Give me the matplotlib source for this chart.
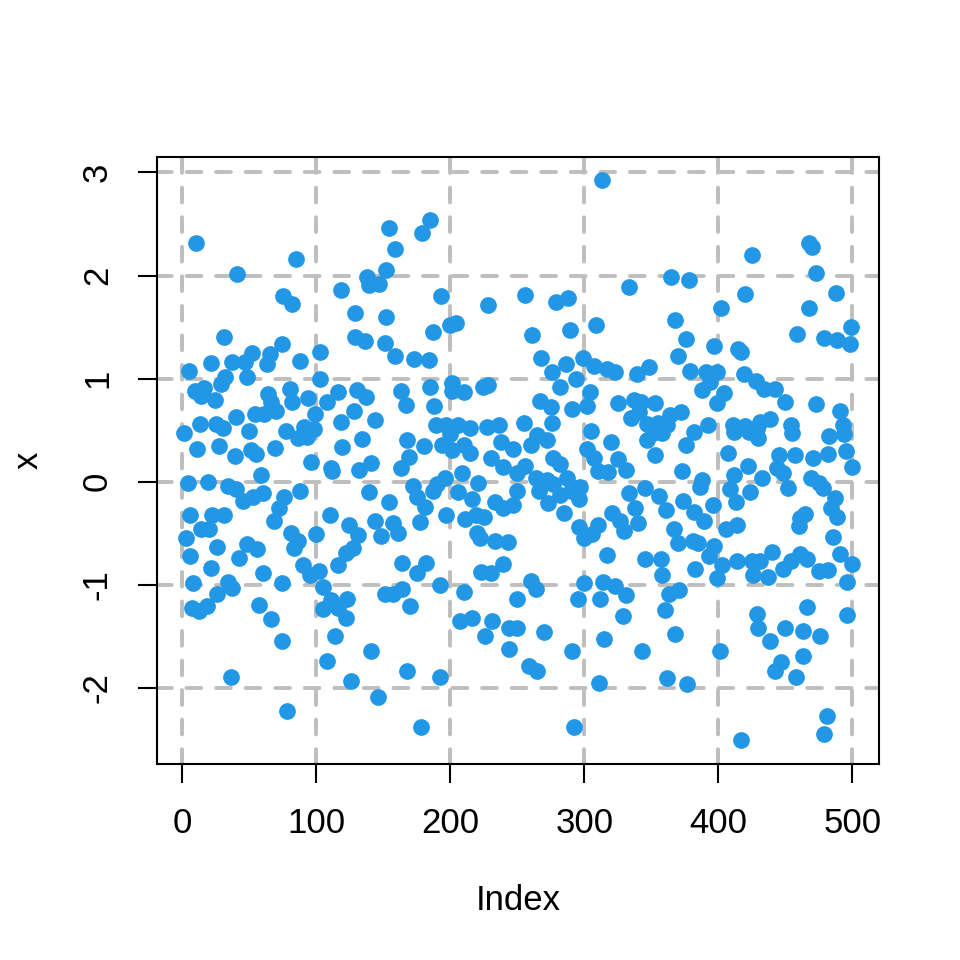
import matplotlib
matplotlib.use("Agg")
import matplotlib.pyplot as plt

# values, grouped by stretches of the index axis
idx_1 = [10, 41, 31, 52, 65, 21, 37, 47, 63, 5, 32, 48, 29, 9, 16, 14, 24, 64, 66, 70,
         40, 54, 61, 1, 13, 25, 30, 50, 11, 27, 39, 51, 55, 69, 4, 19, 34, 40, 59, 45,
         53, 60, 68, 6, 22, 31, 14, 20, 3, 6, 26, 48, 56, 42, 21, 60, 34, 8, 26, 37,
         7, 12, 18, 57, 66, 36]
val_1 = [2.32, 2.01, 1.40, 1.25, 1.24, 1.15, 1.16, 1.16, 1.14, 1.07, 1.02, 1.02, 0.95, 0.88, 0.91, 0.83, 0.79, 0.85, 0.77, 0.69,
         0.63, 0.66, 0.66, 0.47, 0.56, 0.56, 0.52, 0.49, 0.32, 0.35, 0.25, 0.31, 0.27, 0.33, -0.01, 0.00, -0.04, -0.07, 0.06, -0.19,
         -0.15, -0.11, -0.38, -0.32, -0.32, -0.32, -0.46, -0.46, -0.55, -0.72, -0.63, -0.61, -0.65, -0.74, -0.84, -0.89, -0.97, -0.98, -1.09, -1.03,
         -1.23, -1.26, -1.21, -1.20, -1.33, -1.90]

idx_2 = [154, 159, 85, 138, 152, 139, 147, 118, 75, 82, 129, 152, 129, 136, 151, 74, 103, 159, 88, 103,
         80, 116, 130, 137, 94, 82, 108, 99, 128, 118, 144, 77, 91, 98, 86, 93, 119, 134, 96, 111,
         112, 132, 141, 139, 76, 88, 154, 72, 110, 124, 144, 157, 81, 100, 131, 148, 86, 83, 127, 122,
         116, 90, 95, 102, 74, 105, 123, 151, 157, 105, 111, 116, 122, 114, 141, 108, 126, 146, 78, 74]
val_2 = [2.46, 2.26, 2.16, 1.99, 2.05, 1.91, 1.92, 1.86, 1.80, 1.72, 1.64, 1.60, 1.40, 1.36, 1.35, 1.34, 1.26, 1.22, 1.17, 1.00,
         0.90, 0.87, 0.89, 0.82, 0.81, 0.77, 0.77, 0.66, 0.69, 0.58, 0.60, 0.49, 0.53, 0.51, 0.42, 0.43, 0.34, 0.41, 0.19, 0.13,
         0.10, 0.11, 0.18, -0.10, -0.15, -0.09, -0.20, -0.26, -0.32, -0.42, -0.38, -0.40, -0.50, -0.51, -0.52, -0.53, -0.58, -0.64, -0.64, -0.69,
         -0.81, -0.81, -0.91, -0.87, -0.98, -1.02, -1.14, -1.09, -1.09, -1.24, -1.15, -1.23, -1.32, -1.50, -1.64, -1.74, -1.93, -2.09, -2.23, -1.55]

idx_3 = [185, 179, 193, 228, 200, 204, 187, 173, 184, 185, 201, 201, 210, 224, 228, 163, 167, 188, 189, 197,
         206, 200, 215, 227, 236, 168, 238, 247, 169, 180, 163, 194, 201, 210, 215, 230, 239, 196, 190, 209,
         221, 172, 187, 175, 181, 206, 216, 233, 239, 247, 197, 211, 219, 225, 177, 161, 220, 222, 233, 243,
         164, 182, 175, 223, 230, 239, 192, 210, 164, 170, 250, 207, 216, 231, 244, 250, 226, 244, 168, 192, 178]
val_3 = [2.54, 2.41, 1.80, 1.71, 1.52, 1.54, 1.45, 1.19, 1.18, 0.92, 0.96, 0.88, 0.87, 0.92, 0.94, 0.88, 0.74, 0.73, 0.55, 0.55,
         0.55, 0.46, 0.52, 0.53, 0.55, 0.40, 0.38, 0.32, 0.24, 0.35, 0.13, 0.36, 0.31, 0.36, 0.28, 0.23, 0.14, 0.04, -0.02, 0.08,
         -0.01, -0.04, -0.09, -0.15, -0.25, -0.10, -0.17, -0.20, -0.26, -0.23, -0.32, -0.36, -0.32, -0.34, -0.39, -0.50, -0.50, -0.55, -0.58, -0.59,
         -0.79, -0.79, -0.89, -0.88, -0.89, -0.80, -1.00, -1.07, -1.04, -1.21, -1.14, -1.35, -1.32, -1.35, -1.42, -1.42, -1.50, -1.62, -1.84, -1.90, -2.38]

idx_4 = [313, 333, 256, 279, 288, 309, 261, 289, 268, 286, 299, 307, 276, 282, 294, 317, 323, 339, 304, 267,
         275, 291, 302, 325, 337, 335, 255, 276, 305, 320, 265, 260, 272, 302, 307, 277, 282, 256, 250, 310,
         318, 325, 331, 264, 272, 287, 250, 266, 277, 297, 282, 290, 296, 273, 285, 333, 338, 321, 327, 330,
         340, 296, 310, 300, 306, 317, 260, 264, 300, 314, 323, 331, 295, 312, 270, 329, 291, 315, 259, 265,
         311, 292]
val_4 = [2.93, 1.89, 1.81, 1.74, 1.78, 1.52, 1.42, 1.47, 1.20, 1.14, 1.20, 1.12, 1.06, 0.92, 1.00, 1.09, 1.06, 1.04, 0.87, 0.78,
         0.72, 0.70, 0.73, 0.76, 0.79, 0.62, 0.57, 0.57, 0.49, 0.38, 0.45, 0.36, 0.40, 0.32, 0.23, 0.23, 0.17, 0.15, 0.08, 0.10,
         0.09, 0.22, 0.11, 0.04, 0.02, 0.04, -0.09, -0.09, -0.02, -0.05, -0.13, -0.09, -0.17, -0.21, -0.30, -0.11, -0.26, -0.30, -0.38, -0.48,
         -0.40, -0.44, -0.42, -0.55, -0.51, -0.71, -0.96, -1.04, -0.98, -0.97, -1.01, -1.10, -1.14, -1.14, -1.46, -1.30, -1.64, -1.53, -1.79, -1.84,
         -1.95, -2.38]

idx_5 = [425, 365, 378, 420, 402, 368, 376, 397, 415, 417, 370, 348, 379, 391, 399, 419, 428, 388, 394, 404,
         399, 342, 353, 364, 372, 341, 355, 347, 362, 392, 411, 420, 351, 358, 382, 412, 423, 429, 347, 376,
         353, 407, 422, 373, 412, 388, 386, 409, 345, 356, 374, 396, 413, 424, 361, 382, 389, 367, 406, 414,
         370, 381, 385, 397, 345, 357, 393, 383, 403, 414, 425, 426, 399, 358, 363, 371, 360, 429, 368, 343,
         401, 362, 377, 417]
val_5 = [2.20, 1.99, 1.96, 1.82, 1.68, 1.57, 1.38, 1.32, 1.29, 1.26, 1.22, 1.11, 1.07, 1.06, 1.06, 1.04, 0.98, 0.89, 0.97, 0.86,
         0.76, 0.77, 0.76, 0.65, 0.68, 0.68, 0.57, 0.56, 0.55, 0.55, 0.55, 0.54, 0.47, 0.47, 0.48, 0.48, 0.48, 0.51, 0.40, 0.36,
         0.26, 0.28, 0.15, 0.10, 0.06, 0.02, -0.05, -0.07, -0.06, -0.14, -0.19, -0.23, -0.20, -0.10, -0.28, -0.29, -0.38, -0.46, -0.46, -0.42,
         -0.60, -0.58, -0.60, -0.62, -0.75, -0.75, -0.72, -0.85, -0.81, -0.77, -0.77, -0.91, -0.94, -0.91, -1.09, -1.05, -1.25, -1.28, -1.48, -1.64,
         -1.64, -1.91, -1.96, -2.51]

idx_6 = [468, 470, 473, 488, 468, 459, 499, 479, 489, 498, 434, 442, 450, 473, 491, 431, 439, 454, 455, 493,
         494, 483, 430, 445, 457, 471, 482, 495, 500, 433, 444, 448, 452, 469, 475, 478, 487, 484, 489, 461,
         465, 460, 486, 440, 431, 437, 448, 454, 461, 466, 475, 482, 491, 500, 496, 466, 496, 430, 439, 450,
         463, 476, 463, 447, 442, 458, 481, 479]
val_6 = [2.32, 2.28, 2.02, 1.83, 1.68, 1.43, 1.50, 1.39, 1.37, 1.34, 0.90, 0.90, 0.77, 0.75, 0.69, 0.58, 0.61, 0.55, 0.47, 0.55,
         0.46, 0.44, 0.42, 0.26, 0.26, 0.23, 0.27, 0.30, 0.14, 0.04, 0.13, 0.08, -0.06, 0.04, -0.01, -0.06, -0.16, -0.26, -0.34, -0.35,
         -0.31, -0.43, -0.54, -0.68, -0.77, -0.93, -0.85, -0.77, -0.70, -0.75, -0.87, -0.86, -0.70, -0.80, -0.97, -1.22, -1.29, -1.42, -1.55, -1.42,
         -1.45, -1.50, -1.69, -1.75, -1.84, -1.90, -2.27, -2.45]

x_ticks = [0, 100, 200, 300, 400, 500]
y_ticks = [-2, -1, 0, 1, 2, 3]

index = idx_1 + idx_2 + idx_3 + idx_4 + idx_5 + idx_6
x = val_1 + val_2 + val_3 + val_4 + val_5 + val_6

plt.rcParams["font.family"] = ["Liberation Sans", "DejaVu Sans"]
plt.rcParams["axes.unicode_minus"] = False

fig = plt.figure(figsize=(9.6, 9.6), dpi=100)
ax = fig.add_axes([157 / 960, 196 / 960, 722 / 960, 607 / 960])

ax.scatter(index, x, s=145, color="#2297E6", linewidths=0, zorder=3)

ax.set_xlim(-19, 520)
ax.set_ylim(-2.74, 3.15)
ax.set_xticks(x_ticks)
ax.set_yticks(y_ticks)

# R-style dashed grid at the tick positions
for t in x_ticks:
    ax.axvline(t, color="#bebebe", lw=2.8, dashes=(3.8, 3.8), dash_capstyle="round", zorder=1)
for t in y_ticks:
    ax.axhline(t, color="#bebebe", lw=2.8, dashes=(3.8, 3.8), dash_capstyle="round", zorder=1)

for s in ax.spines.values():
    s.set_linewidth(1.5)
ax.tick_params(length=14, width=1.5, labelsize=25, pad=17)
for lab in ax.get_yticklabels():
    lab.set_rotation(90)
    lab.set_va("center")

fig.text(518 / 960, 1 - 900 / 960, "Index", ha="center", va="center", fontsize=25)
fig.text(28 / 960, 1 - 460 / 960, "x", ha="center", va="center", fontsize=25, rotation=90)

fig.savefig("out.png", dpi=100, facecolor="white")
